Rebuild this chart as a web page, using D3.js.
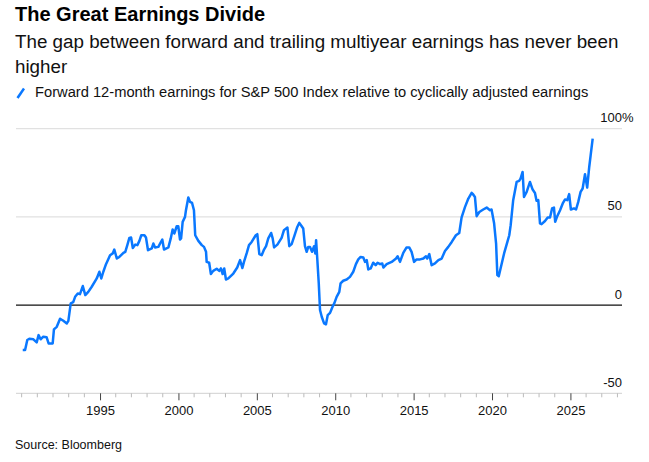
<!DOCTYPE html>
<html>
<head>
<meta charset="utf-8">
<script src="https://cdn.jsdelivr.net/npm/d3@7"></script>
<style>
  body { margin: 0; background: #fff; }
  svg text { font-family: "Liberation Sans", Arial, sans-serif; }
</style>
</head>
<body>
<div id="chart"></div>
<script>
// decimal years
const years = [
  1990.07, 1990.22, 1990.36, 1990.49, 1990.75, 1990.96, 1991.08, 1991.21, 1991.38, 1991.59,
  1991.72, 1991.98, 1992.06, 1992.24, 1992.45, 1992.66, 1992.88, 1992.98, 1993.13, 1993.29,
  1993.41, 1993.58, 1993.72, 1993.9, 1994.06, 1994.25, 1994.47, 1994.79, 1994.96, 1995.08,
  1995.21, 1995.38, 1995.64, 1995.81, 1995.91, 1996.07, 1996.23, 1996.49, 1996.61, 1996.74,
  1996.87, 1996.98, 1997.09, 1997.25, 1997.38, 1997.51, 1997.63, 1997.83, 1997.93, 1998.06,
  1998.3, 1998.4, 1998.51, 1998.72, 1998.83, 1998.97, 1999.08, 1999.36, 1999.51, 1999.63,
  1999.74, 1999.89, 1999.99, 2000.1, 2000.17, 2000.27, 2000.42, 2000.48, 2000.63, 2000.74,
  2000.87, 2000.99, 2001.07, 2001.27, 2001.49, 2001.63, 2001.76, 2001.8, 2001.96, 2002.07,
  2002.22, 2002.44, 2002.6, 2002.71, 2002.82, 2002.92, 2003.03, 2003.18, 2003.5, 2003.75,
  2003.93, 2004.08, 2004.18, 2004.36, 2004.5, 2004.67, 2004.93, 2005.03, 2005.16, 2005.31,
  2005.46, 2005.59, 2005.73, 2005.91, 2006.01, 2006.1, 2006.31, 2006.58, 2006.73, 2006.95,
  2007.07, 2007.22, 2007.39, 2007.58, 2007.71, 2007.86, 2007.96, 2008.07, 2008.18, 2008.28,
  2008.39, 2008.52, 2008.65, 2008.73, 2008.78, 2008.86, 2008.95, 2009.03, 2009.14, 2009.29,
  2009.41, 2009.52, 2009.67, 2009.83, 2009.94, 2010.09, 2010.26, 2010.34, 2010.51, 2010.73,
  2010.94, 2011.15, 2011.32, 2011.47, 2011.62, 2011.79, 2011.9, 2012.01, 2012.11, 2012.26,
  2012.42, 2012.58, 2012.7, 2012.86, 2013.0, 2013.07, 2013.28, 2013.6, 2013.88, 2013.98,
  2014.13, 2014.34, 2014.55, 2014.72, 2014.87, 2015.03, 2015.19, 2015.41, 2015.62, 2015.79,
  2015.87, 2016.0, 2016.15, 2016.36, 2016.58, 2016.79, 2017.0, 2017.21, 2017.43, 2017.7,
  2017.91, 2018.06, 2018.28, 2018.49, 2018.7, 2018.8, 2018.91, 2019.02, 2019.19, 2019.44,
  2019.66, 2019.87, 2019.97, 2020.13, 2020.26, 2020.34, 2020.43, 2020.62, 2020.77, 2020.98,
  2021.1, 2021.19, 2021.35, 2021.57, 2021.73, 2021.82, 2021.95, 2022.04, 2022.21, 2022.42,
  2022.59, 2022.74, 2022.84, 2022.95, 2023.06, 2023.16, 2023.38, 2023.55, 2023.7, 2023.83,
  2023.95, 2024.03, 2024.16, 2024.34, 2024.51, 2024.66, 2024.8, 2024.92, 2025.03, 2025.23,
  2025.36, 2025.5, 2025.65, 2025.78, 2025.93, 2026.07, 2026.2, 2026.29, 2026.42
];

// forward earnings relative to cyclically adjusted earnings, %
const values = [
  -25.5, -25.5, -19.8, -19.1, -19.4, -21.1, -17.0, -19.4, -17.9, -18.2,
  -21.7, -21.7, -13.8, -12.3, -7.7, -8.9, -10.4, -8.9, 1.0, 1.7,
  4.7, 6.6, 6.2, 10.8, 5.7, 7.5, 10.4, 15.1, 18.9, 15.1,
  18.9, 23.2, 28.3, 29.3, 31.5, 26.4, 27.3, 29.6, 30.2, 34.0,
  38.1, 38.3, 32.4, 34.3, 34.0, 36.4, 39.6, 39.6, 38.3, 31.1,
  32.1, 34.9, 32.7, 33.0, 34.9, 37.2, 31.5, 32.7, 37.8, 42.9,
  40.6, 44.7, 44.7, 37.2, 37.8, 47.2, 50.0, 53.8, 61.0, 58.5,
  57.9, 53.8, 39.6, 36.4, 34.0, 33.0, 30.2, 24.5, 24.0, 17.6,
  19.4, 20.6, 19.4, 20.8, 17.6, 20.8, 14.5, 15.1, 17.9, 21.3,
  25.5, 21.0, 24.5, 29.6, 34.0, 35.8, 39.6, 40.2, 28.9, 28.3,
  31.5, 33.4, 37.8, 40.9, 37.8, 32.7, 34.3, 38.1, 42.5, 44.0,
  33.4, 34.6, 39.1, 44.3, 46.6, 44.7, 43.4, 33.4, 30.2, 33.0,
  33.0, 30.2, 33.4, 29.3, 36.8, 25.5, 12.3, -2.8, -6.6, -10.4,
  -10.9, -5.7, -4.4, -0.9, 1.0, 4.7, 7.5, 12.3, 13.8, 14.5,
  16.0, 18.9, 23.2, 25.9, 27.3, 27.0, 24.5, 25.5, 20.2, 20.8,
  24.0, 22.6, 24.0, 23.2, 23.6, 21.3, 23.2, 24.5, 26.4, 27.7,
  24.5, 29.6, 32.7, 32.7, 30.2, 24.5, 25.9, 25.9, 26.4, 27.7,
  26.4, 28.9, 22.6, 23.6, 25.5, 26.4, 30.7, 33.0, 35.8, 39.6,
  40.9, 49.7, 55.7, 60.4, 63.6, 62.7, 61.3, 50.4, 52.8, 54.2,
  55.3, 53.8, 54.2, 46.6, 34.9, 17.0, 16.4, 23.6, 29.3, 35.8,
  39.6, 45.3, 59.5, 69.8, 70.4, 71.7, 75.5, 61.3, 64.2, 69.8,
  65.5, 63.6, 59.1, 59.5, 46.3, 45.9, 47.7, 49.7, 49.7, 54.8,
  55.3, 47.2, 50.4, 53.8, 57.6, 59.9, 59.5, 62.9, 54.2, 54.8,
  54.2, 58.5, 64.2, 66.1, 74.2, 66.6, 78.3, 84.9, 94.4
];

const yTicks = [-50, 0, 50, 100];
const xTickYears = [1995, 2000, 2005, 2010, 2015, 2020, 2025];
const xMinorYears = d3.range(1990, 2029);

const width = 649;
const height = 462;
const margin = { top: 128.7, right: 27, bottom: 68.7, left: 16 };
const blue = "#0a78ff";

const svg = d3
  .select("#chart")
  .append("svg")
  .attr("width", width)
  .attr("height", height);

const x = d3
  .scaleLinear()
  .domain([1989.64, 2028.29])
  .range([margin.left, width - margin.right]);

const y = d3
  .scaleLinear()
  .domain([-50, 100])
  .range([height - margin.bottom, margin.top]);

// header
svg.append("text")
  .attr("x", 15).attr("y", 21)
  .attr("font-size", 20).attr("font-weight", "bold")
  .attr("fill", "#000")
  .text("The Great Earnings Divide");

const sub = svg.append("text")
  .attr("x", 15).attr("y", 48.3)
  .attr("font-size", 18.8).attr("fill", "#111");
sub.append("tspan").attr("x", 15).text("The gap between forward and trailing multiyear earnings has never been");
sub.append("tspan").attr("x", 15).attr("dy", 24.4).text("higher");

// legend
svg.append("line")
  .attr("x1", 17.5).attr("y1", 98).attr("x2", 24).attr("y2", 88.5)
  .attr("stroke", blue).attr("stroke-width", 2.5);
svg.append("text")
  .attr("x", 35).attr("y", 96.5)
  .attr("font-size", 14.7).attr("fill", "#111")
  .text("Forward 12-month earnings for S&P 500 Index relative to cyclically adjusted earnings");

// grid
svg.append("g")
  .selectAll("line")
  .data(yTicks.filter((d) => d !== 0 && d !== -50))
  .join("line")
  .attr("x1", margin.left).attr("x2", width - margin.right)
  .attr("y1", (d) => y(d)).attr("y2", (d) => y(d))
  .attr("stroke", "#e1e1e1").attr("stroke-width", 1.3);

// bottom axis
const xAxis = (g) => {
  g.attr("transform", `translate(0, ${y(-50)})`)
    .call(d3.axisBottom(x).tickValues(xTickYears).tickFormat(d3.format("d")).tickSize(7).tickPadding(5))
    .call((g) => g.select(".domain").attr("stroke", "#d0d0d0").attr("d", `M${margin.left},0H${width - margin.right}`))
    .call((g) => g.selectAll(".tick line").attr("stroke", "#444"))
    .call((g) => g.selectAll(".tick text").attr("font-size", 13).attr("fill", "#111")
      .attr("font-family", "Liberation Sans, Arial, sans-serif"));
  g.append("g")
    .selectAll("line")
    .data(xMinorYears.filter((d) => !xTickYears.includes(d) && x(d) > margin.left && x(d) < width - margin.right))
    .join("line")
    .attr("x1", (d) => x(d)).attr("x2", (d) => x(d))
    .attr("y1", 0).attr("y2", 4)
    .attr("stroke", "#bbb");
};
svg.append("g").call(xAxis);

// y labels
svg.append("g")
  .selectAll("text")
  .data(yTicks)
  .join("text")
  .attr("x", width - margin.right)
  .attr("y", (d) => y(d) - 6.5)
  .attr("text-anchor", "end")
  .attr("font-size", 13).attr("fill", "#111")
  .text((d) => d);
svg.append("text")
  .attr("x", width - margin.right)
  .attr("y", y(100) - 6.5)
  .attr("font-size", 13).attr("fill", "#111")
  .text("%");

// zero line
svg.append("line")
  .attr("x1", margin.left).attr("x2", width - margin.right)
  .attr("y1", y(0)).attr("y2", y(0))
  .attr("stroke", "#111").attr("stroke-width", 1.2);

// series
const data = years.map((yr, i) => ({ year: yr, value: values[i] }));
const line = d3.line().x((d) => x(d.year)).y((d) => y(d.value));
svg.append("path")
  .datum(data)
  .attr("fill", "none")
  .attr("stroke", blue)
  .attr("stroke-width", 2.5)
  .attr("stroke-linejoin", "round")
  .attr("d", line);

// source
svg.append("text")
  .attr("x", 15).attr("y", 449)
  .attr("font-size", 12.5).attr("fill", "#111")
  .text("Source: Bloomberg");
</script>
</body>
</html>
